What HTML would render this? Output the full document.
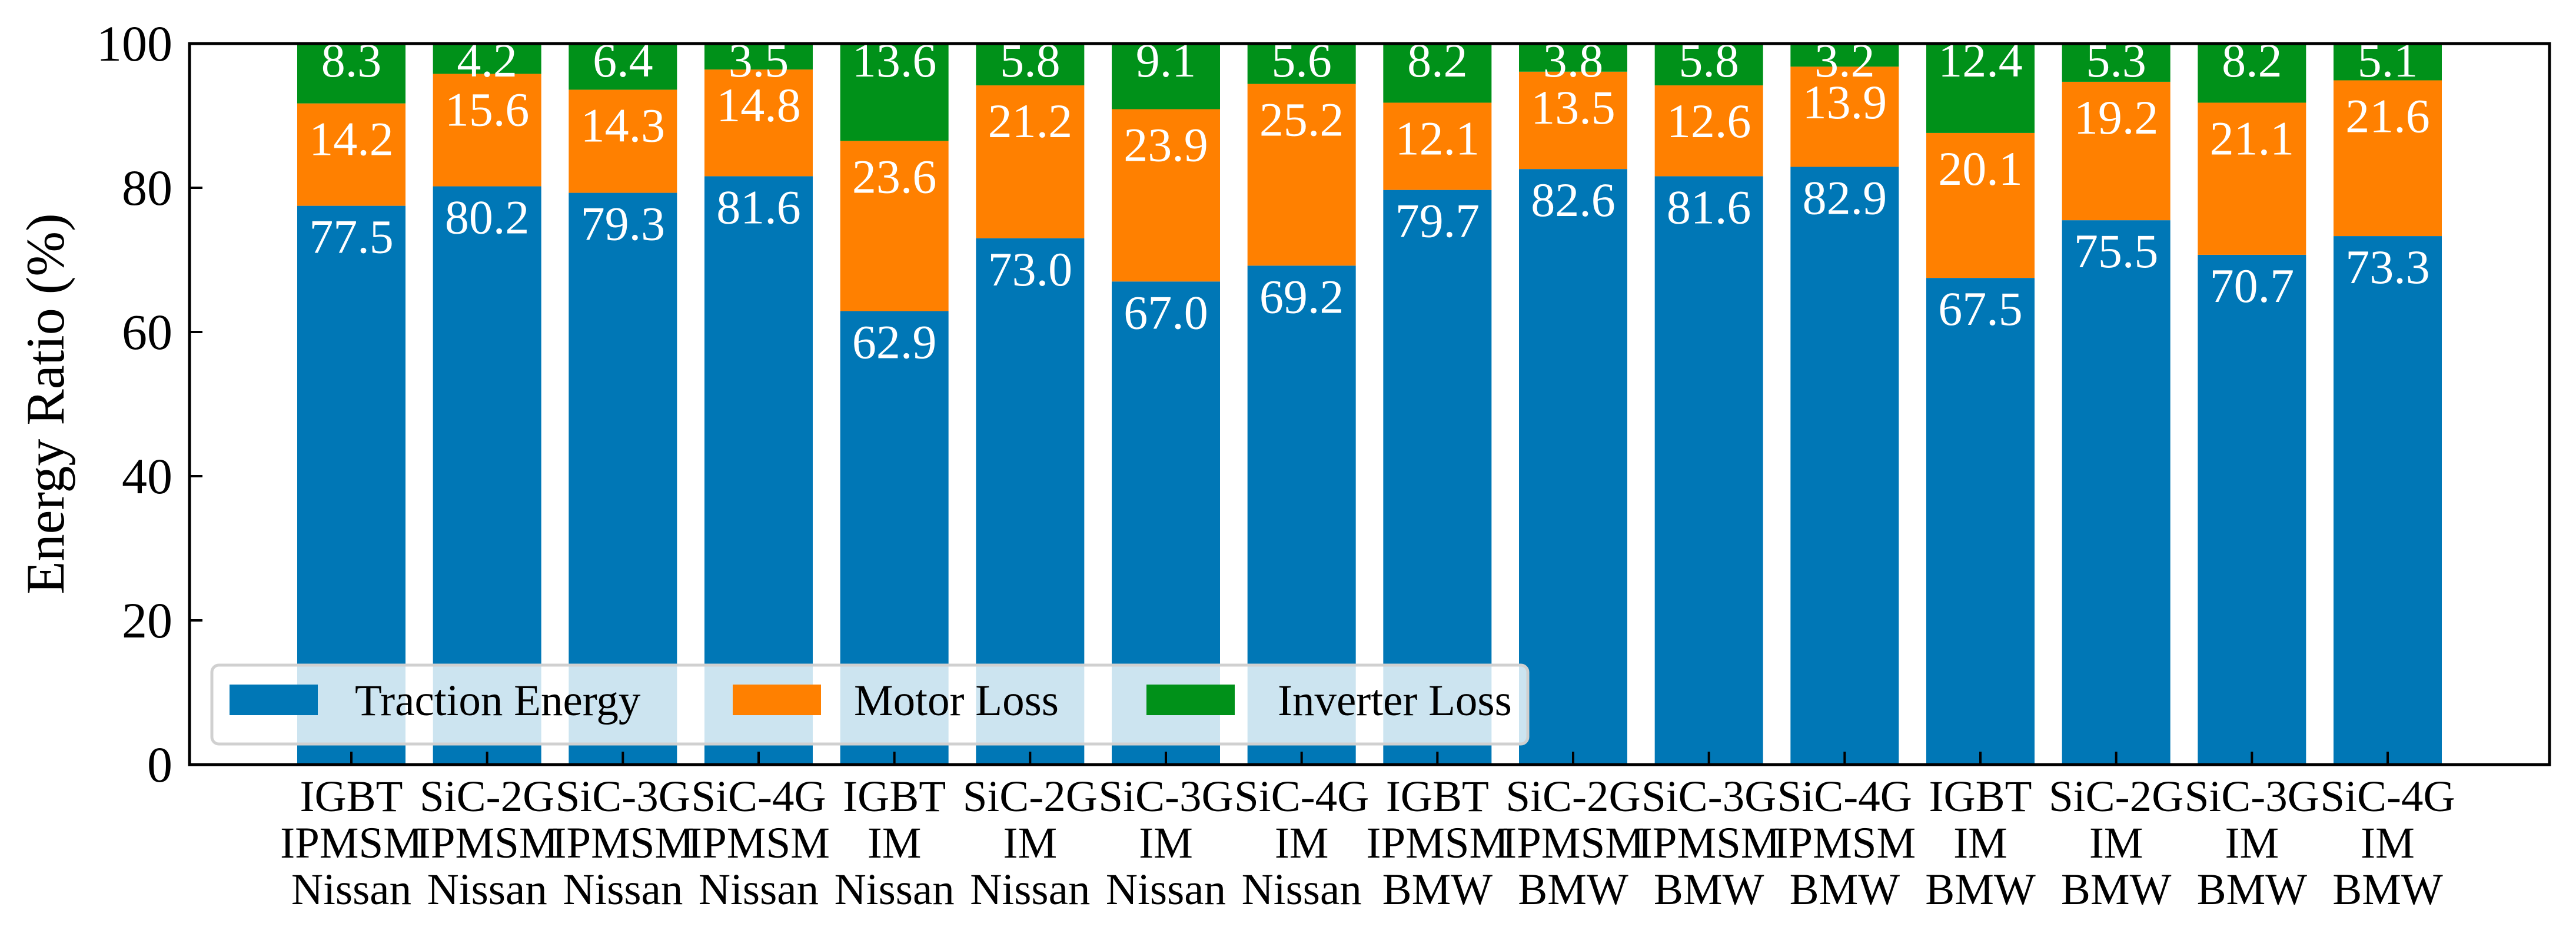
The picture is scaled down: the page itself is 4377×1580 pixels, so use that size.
<!DOCTYPE html>
<html><head><meta charset="utf-8"><style>
html,body{margin:0;padding:0;background:#fff;}
svg{display:block;font-family:"Liberation Serif",serif;}
</style></head><body>
<svg id="chart" width="4377" height="1580" viewBox="0 0 4377 1580">
<g id="plot"></g>
</svg>
<script>
const categories=[["IGBT","IPMSM","Nissan"],["SiC-2G","IPMSM","Nissan"],["SiC-3G","IPMSM","Nissan"],["SiC-4G","IPMSM","Nissan"],["IGBT","IM","Nissan"],["SiC-2G","IM","Nissan"],["SiC-3G","IM","Nissan"],["SiC-4G","IM","Nissan"],["IGBT","IPMSM","BMW"],["SiC-2G","IPMSM","BMW"],["SiC-3G","IPMSM","BMW"],["SiC-4G","IPMSM","BMW"],["IGBT","IM","BMW"],["SiC-2G","IM","BMW"],["SiC-3G","IM","BMW"],["SiC-4G","IM","BMW"]];
const traction=[77.5,80.2,79.3,81.6,62.9,73.0,67.0,69.2,79.7,82.6,81.6,82.9,67.5,75.5,70.7,73.3];
const motorLoss=[14.2,15.6,14.3,14.8,23.6,21.2,23.9,25.2,12.1,13.5,12.6,13.9,20.1,19.2,21.1,21.6];
const inverterLoss=[8.3,4.2,6.4,3.5,13.6,5.8,9.1,5.6,8.2,3.8,5.8,3.2,12.4,5.3,8.2,5.1];
const yTicks=[0,20,40,60,80,100];

const NS="http://www.w3.org/2000/svg";
const svg=document.getElementById('chart');
const L=322,R=4332,T=74,B=1299;
const x0=597,x1=4057,bw=184;
function xs(i){return x0+i*(x1-x0)/(categories.length-1);}
function ys(v){return B-(v/100)*(B-T);}
function mk(tag,attrs,parent){const e=document.createElementNS(NS,tag);for(const k in attrs)e.setAttribute(k,attrs[k]);(parent||svg).appendChild(e);return e;}
function txt(s,attrs,parent){const e=mk('text',attrs,parent);e.textContent=s;return e;}

const colors=['#0077b6','#ff8000','#009119'];
const series=[traction,motorLoss,inverterLoss];
const snames=['traction','motor-loss','inverter-loss'];
for(let i=0;i<categories.length;i++){
  let base=0;
  for(let s=0;s<3;s++){
    const v=series[s][i];
    const yt=ys(base+v), yb=ys(base);
    const r=mk('rect',{x:xs(i)-bw/2,y:yt,width:bw,height:yb-yt,fill:colors[s]});
    
    
    base+=v;
  }
}
for(let i=0;i<categories.length;i++){
  const tTop=ys(traction[i]);
  const oTop=ys(traction[i]+motorLoss[i]);
  const specs=[[traction[i],tTop+52],[motorLoss[i],oTop+60],[inverterLoss[i],102]];
  specs.forEach((sp,s)=>{
    const t=txt(sp[0].toFixed(1),{x:xs(i),y:sp[1]+28,'text-anchor':'middle','font-size':82,fill:'#ffffff'});
    
    
  });
}
const frame=mk('rect',{x:L,y:T,width:R-L,height:B-T,fill:'none',stroke:'#000','stroke-width':5});


yTicks.forEach(v=>{
  const y=ys(v);
  const tk=mk('line',{x1:L,x2:L+22,y1:y,y2:y,stroke:'#000','stroke-width':4});
  
  
  const t=txt(String(v),{x:293,y:y+29,'text-anchor':'end','font-size':86,fill:'#000'});
  
  
});
categories.forEach((c,i)=>{
  const x=xs(i);
  const tk=mk('line',{x1:x,x2:x,y1:B,y2:B-22,stroke:'#000','stroke-width':4});
  
  
  const t=mk('text',{x:x,'text-anchor':'middle','font-size':75,fill:'#000'});
  
  
  c.forEach((line,k)=>{const ts=mk('tspan',{x:x,y:1378+k*79},t);ts.textContent=line;});
});
const yt=txt('Energy Ratio (%)',{x:0,y:0,'text-anchor':'middle','font-size':92,fill:'#000',transform:'translate(108,686) rotate(-90)'});


const lg=mk('g',{});


mk('rect',{x:360,y:1130,width:2236,height:134,rx:12,fill:'rgba(255,255,255,0.8)',stroke:'#d0d0d0','stroke-width':5},lg);
const lItems=[['Traction Energy',390,603],['Motor Loss',1245,1451],['Inverter Loss',1948,2171]];
lItems.forEach((it,s)=>{
  const p=mk('rect',{x:it[1],y:1163,width:150,height:52,fill:colors[s]},lg);
  
  
  const t=txt(it[0],{x:it[2],y:1215,'font-size':75,fill:'#000'},lg);
  
  
});
</script>
</body></html>
